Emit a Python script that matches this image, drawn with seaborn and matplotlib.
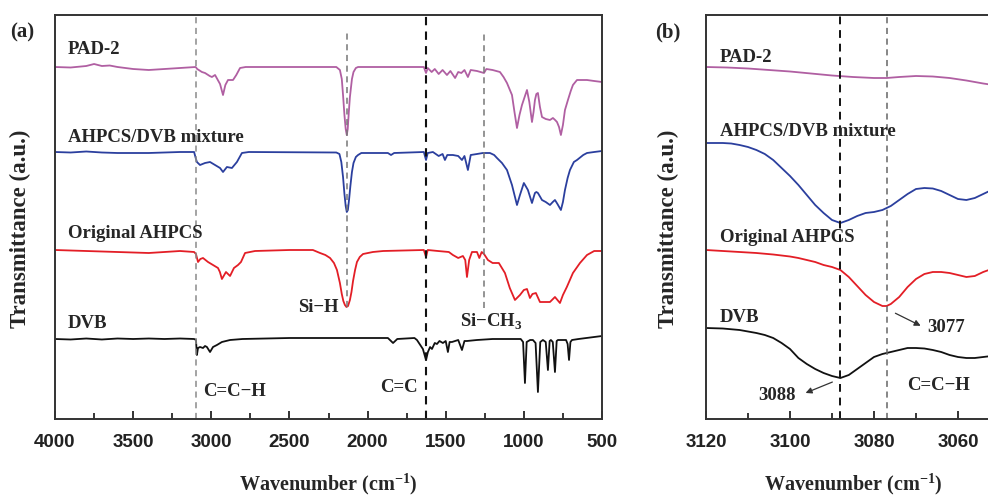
import matplotlib
matplotlib.use("Agg")
import matplotlib.pyplot as plt
import pandas as pd
import seaborn as sns

# ---------------- Panel (a): full-range FTIR spectra ----------------
# (wavenumber cm-1, band depth below the baseline in a.u.)
pad2_a = [(4000, 0), (3900, 0.5), (3800, -1), (3750, -3), (3700, -1), (3650, -1.5), (3600, 0),
          (3500, 2), (3400, 3), (3300, 2), (3200, 1), (3100, 0), (3090, 2), (3060, 5), (3040, 6),
          (3010, 9), (2996, 10), (2976, 8), (2944, 17), (2925, 28), (2910, 18), (2893, 13),
          (2861, 13), (2840, 8), (2816, 1), (2780, 0), (2200, 0), (2177, 3), (2165, 12),
          (2157, 28), (2148, 48), (2140, 62), (2133, 68), (2127, 62), (2120, 45), (2113, 30),
          (2100, 12), (2090, 5), (2075, 1), (2061, 0),
          (1700, 0), (1640, 0), (1626, 6), (1615, 1), (1590, 5), (1570, 2), (1545, 7), (1520, 3),
          (1492, 8), (1470, 4), (1440, 11), (1420, 5), (1400, 6), (1380, 3), (1358, 10),
          (1340, 3), (1300, 4), (1255, 6), (1240, 2), (1200, 3), (1153, 5), (1130, 10),
          (1108, 16), (1076, 28), (1060, 45), (1044, 61), (1028, 48), (1012, 38), (995, 30),
          (980, 23), (965, 35), (948, 55), (938, 45), (929, 33), (920, 27), (910, 26), (897, 40),
          (884, 50), (860, 52), (833, 53), (814, 51), (800, 53), (788, 55), (775, 60), (763, 68),
          (750, 58), (737, 43), (718, 33), (700, 24), (686, 18), (660, 13), (630, 13), (596, 13),
          (550, 14), (500, 15)]

mix_a = [(4000, 0), (3900, 0.5), (3800, -0.5), (3700, 0.5), (3600, 1), (3400, 1), (3200, 0),
         (3110, 0), (3098, 7), (3092, 10), (3072, 13), (3040, 11), (3008, 10), (2976, 13),
         (2944, 16), (2925, 20), (2900, 15), (2868, 16), (2836, 10), (2804, 1), (2760, 0),
         (2200, 0.5), (2180, 2), (2168, 10), (2157, 25), (2148, 42), (2140, 54), (2133, 60),
         (2126, 58), (2118, 47), (2110, 34), (2100, 20), (2090, 11), (2075, 5), (2061, 3),
         (2040, 1), (1870, 1), (1850, 3), (1830, 1),
         (1640, 0), (1626, 8), (1615, 1), (1582, 0), (1545, 4), (1520, 2), (1505, 8), (1490, 3),
         (1454, 3), (1420, 4), (1396, 8), (1380, 4), (1358, 18), (1340, 3), (1300, 2),
         (1262, 1), (1217, 1), (1190, 3), (1172, 6), (1140, 11), (1108, 18), (1076, 33),
         (1060, 43), (1044, 53), (1025, 43), (1000, 31), (985, 35), (974, 38), (948, 51),
         (935, 44), (929, 41), (920, 40), (910, 41), (895, 45), (884, 48), (860, 50), (833, 53),
         (815, 50), (801, 48), (785, 52), (763, 58), (750, 50), (737, 38), (720, 26), (705, 18),
         (680, 10), (660, 8), (620, 3), (596, 1), (550, 0), (500, -1)]

ahpcs_a = [(4000, 0), (3800, 1), (3600, 2), (3400, 3), (3200, 1), (3110, 2), (3098, 4),
           (3085, 12), (3070, 9), (3053, 8), (3021, 12), (2989, 15), (2957, 18), (2945, 22),
           (2932, 29), (2906, 22), (2880, 26), (2855, 18), (2829, 15), (2810, 12), (2784, 3),
           (2720, 1), (2500, 0), (2350, 0), (2304, 3), (2270, 5), (2240, 8), (2215, 13),
           (2196, 20), (2177, 33), (2165, 44), (2155, 51), (2145, 55), (2135, 57), (2125, 56),
           (2113, 50), (2103, 42), (2093, 31), (2080, 20), (2068, 12), (2050, 7),
           (2029, 4), (1966, 2), (1900, 1), (1640, 0), (1626, 7), (1615, 0), (1550, 1),
           (1480, 2), (1454, 5), (1420, 8), (1390, 6), (1375, 10), (1364, 27), (1350, 10),
           (1332, 2), (1300, 2), (1285, 8), (1270, 2), (1255, 4), (1230, 10), (1200, 13),
           (1160, 13), (1121, 23), (1090, 38), (1057, 50), (1025, 45), (1000, 40), (980, 39),
           (961, 48), (945, 44), (923, 43), (897, 52), (860, 52), (833, 52), (801, 47),
           (769, 53), (750, 45), (725, 37), (686, 23), (641, 13), (596, 5), (550, 1), (500, 1)]

dvb_a = [(4000, 0), (3900, 0.5), (3800, -0.5), (3700, 0.5), (3600, -0.5), (3500, 0), (3400, -0.5),
         (3300, 0), (3200, -0.5), (3110, 0), (3098, 1), (3092, 16), (3085, 9), (3072, 8),
         (3053, 9), (3040, 7), (3028, 8), (3008, 13), (2989, 8), (2964, 6), (2932, 3), (2880, 1),
         (2800, 0), (2500, -1), (2200, -1), (2000, -1), (1870, -1), (1837, 4), (1810, 0),
         (1700, -1), (1684, 1), (1646, 10), (1626, 21), (1614, 13), (1600, 8), (1588, 10),
         (1570, 4), (1556, 5), (1540, 2), (1518, 4), (1500, 2), (1486, 13), (1475, 3),
         (1460, 3), (1420, 1), (1396, 11), (1380, 2), (1364, 2), (1300, 1), (1200, 0),
         (1100, 0), (1020, 0), (1005, 3), (993, 44), (982, 3), (960, 1), (942, 1), (925, 4),
         (910, 53), (895, 3), (878, 1), (860, 3), (846, 31), (835, 2), (827, 1), (815, 3),
         (801, 33), (790, 2), (782, 1), (730, 1), (720, 5), (711, 21), (702, 3), (692, 1),
         (650, 0), (600, -1), (500, -3)]

# ---------------- Panel (b): 3120-3050 cm-1 detail ----------------
pad2_b = [(3120, 0), (3115, 0.5), (3110, 1.5), (3105, 3), (3100, 4.5), (3095, 6.5), (3090, 8.5),
          (3085, 10), (3080, 11), (3077, 11), (3074, 10), (3070, 9), (3066, 9.5), (3062, 11),
          (3058, 13.5), (3054, 16.5), (3050, 19)]

mix_b = [(3120, 0), (3118, 0), (3116, 0), (3114, 0.5), (3112, 2), (3110, 4), (3108, 7),
         (3106, 11), (3104, 17), (3102, 25), (3100, 33), (3098, 42), (3096, 52), (3094, 62),
         (3092, 70), (3090, 77), (3088, 80), (3086, 77), (3084, 73), (3082, 70), (3080, 69),
         (3078, 67), (3076, 63), (3074, 57), (3072, 51), (3070, 46), (3068, 45), (3066, 45.5),
         (3064, 48), (3062, 52), (3060, 56), (3058, 57), (3056, 55), (3054, 51), (3052, 47),
         (3050, 44)]

ahpcs_b = [(3120, 0), (3116, 1), (3112, 2), (3108, 3), (3104, 4.5), (3100, 6.5), (3098, 8),
           (3096, 10), (3094, 12), (3092, 15), (3090, 17), (3088, 20), (3086, 27), (3084, 36),
           (3082, 45), (3080, 52), (3078, 56), (3077, 56), (3076, 54), (3074, 47), (3072, 37),
           (3070, 29), (3068, 24), (3066, 22), (3064, 22), (3062, 23), (3060, 25), (3058, 27),
           (3056, 26), (3054, 22), (3052, 19), (3050, 16)]

dvb_b = [(3120, 0), (3116, 0.5), (3112, 2), (3108, 5), (3106, 7), (3104, 10), (3102, 15),
         (3100, 21), (3098, 30), (3096, 36), (3094, 41), (3092, 45), (3090, 48), (3088, 50),
         (3086, 47), (3084, 41), (3082, 35), (3080, 29), (3078, 26), (3076, 24), (3074, 22),
         (3072, 20), (3070, 20), (3068, 20.5), (3066, 22), (3064, 24), (3062, 27), (3060, 29),
         (3058, 30), (3056, 30), (3054, 29), (3052, 28), (3050, 27)]

samples = ["PAD-2", "AHPCS/DVB mixture", "Original AHPCS", "DVB"]
colors = ["#b05fa2", "#2b3f9e", "#e31e26", "#111111"]
offsets_a = [352, 267, 169, 80]   # vertical stacking of the traces
offsets_b = [352, 276, 169, 91]


def stack(spectra, offsets):
    rows = []
    for name, spec, off in zip(samples, spectra, offsets):
        for wn, dip in spec:
            rows.append({"sample": name, "wavenumber": wn, "T": off - dip})
    return pd.DataFrame(rows)


df_a = stack([pad2_a, mix_a, ahpcs_a, dvb_a], offsets_a)
df_b = stack([pad2_b, mix_b, ahpcs_b, dvb_b], offsets_b)

sns.set_theme(style="ticks")
plt.rcParams["font.family"] = ["Liberation Serif", "DejaVu Serif"]
plt.rcParams["mathtext.fontset"] = "custom"
plt.rcParams["mathtext.rm"] = "Liberation Serif"
plt.rcParams["mathtext.bf"] = "Liberation Serif:bold"

W, H = 988, 497
fig = plt.figure(figsize=(W / 100, H / 100), dpi=100)
ax_a = fig.add_axes([55 / W, (H - 419) / H, 547 / W, 404 / H])
ax_b = fig.add_axes([706 / W, (H - 419) / H, 294 / W, 404 / H])

palette = dict(zip(samples, colors))
for ax, df in ((ax_a, df_a), (ax_b, df_b)):
    sns.lineplot(data=df, x="wavenumber", y="T", hue="sample", palette=palette,
                 estimator=None, sort=False, legend=False, lw=1.3, ax=ax)

serif_bold = dict(family=["Liberation Serif", "DejaVu Serif"], weight="bold")

# axis styling
ax_a.set_xlim(4000, 500)
ax_a.set_xticks([4000, 3500, 3000, 2500, 2000, 1500, 1000, 500])
ax_a.set_xticks(range(3750, 500, -500), minor=True)
ax_b.set_xlim(3120, 3050)
ax_b.set_xticks([3120, 3100, 3080, 3060])
ax_b.set_xticks([3110, 3090, 3070], minor=True)
for ax, ylab_x in ((ax_a, (31 - 55) / 547), (ax_b, (679 - 706) / 294)):
    ax.set_ylim(0, 404)
    ax.set_yticks([])
    ax.tick_params(axis="x", which="major", direction="in", length=6, width=1.3,
                   pad=10.5, colors="#222222")
    ax.tick_params(axis="x", which="minor", direction="in", length=4, width=1.3)
    for lab in ax.get_xticklabels():
        lab.set_fontfamily(["Liberation Sans", "DejaVu Sans"])
        lab.set_fontweight("bold")
        lab.set_fontsize(13.5)
    for sp in ax.spines.values():
        sp.set_linewidth(1.4)
        sp.set_color("#333333")
    ax.set_xlabel("Wavenumber (cm$^{\\mathbf{-1}}$)", fontsize=14.5, labelpad=15, **serif_bold)
    ax.set_ylabel("Transmittance (a.u.)", fontsize=16.5, **serif_bold)
    ax.yaxis.set_label_coords(ylab_x, (419 - 229) / 404)
ax_b.spines["right"].set_visible(False)

# reference band positions
dash = (0, (4, 3))
ax_a.axvline(3100, color="#8a8a8a", lw=1.1, ls=dash)
ax_a.axvline(1626, color="#111111", lw=1.5, ls=dash)
ax_a.vlines(2130, 112, 386, color="#777777", lw=1.1, ls=dash)
ax_a.vlines(1255, 111, 387, color="#777777", lw=1.1, ls=dash)
ax_b.axvline(3088, color="#111111", lw=1.4, ls=dash)
ax_b.axvline(3077, color="#666666", lw=1.1, ls=dash)

# trace labels
lab_fs = 13.5
for name, y in zip(samples, [369, 281, 185, 96]):
    ax_a.text(3917, y, name, ha="left", va="center", fontsize=lab_fs, **serif_bold)
for name, y in zip(samples, [362, 288, 181, 101]):
    ax_b.text(3116.7, y, name, ha="left", va="center", fontsize=lab_fs, **serif_bold)

ax_a.text(3050, 27, "C=C\u2212H", ha="left", va="center", fontsize=lab_fs, **serif_bold)
ax_a.text(2445, 111, "Si\u2212H", ha="left", va="center", fontsize=lab_fs, **serif_bold)
ax_a.text(1921, 32, "C=C", ha="left", va="center", fontsize=lab_fs, **serif_bold)
ax_a.text(1409, 97, "Si\u2212CH$_\\mathbf{3}$", ha="left", va="center", fontsize=lab_fs, **serif_bold)

ax_b.text(3072.1, 34, "C=C\u2212H", ha="left", va="center", fontsize=lab_fs, **serif_bold)
ax_b.text(3067.4, 92, "3077", ha="left", va="center", fontsize=lab_fs, **serif_bold)
ax_b.annotate("", xy=(3068.3, 92), xytext=(3075.5, 107),
              arrowprops=dict(arrowstyle="-|>", color="#333333", lw=0.9, mutation_scale=9))
ax_b.text(3103.1, 24, "3088", ha="center", va="center", fontsize=lab_fs, **serif_bold)
ax_b.annotate("", xy=(3096.9, 25), xytext=(3089.3, 38),
              arrowprops=dict(arrowstyle="-|>", color="#333333", lw=0.9, mutation_scale=9))

fig.text(22 / W, 1 - 32 / H, "(a)", ha="center", va="center", fontsize=15, **serif_bold)
fig.text(668 / W, 1 - 32 / H, "(b)", ha="center", va="center", fontsize=15, **serif_bold)

fig.savefig("out.png", dpi=100)
